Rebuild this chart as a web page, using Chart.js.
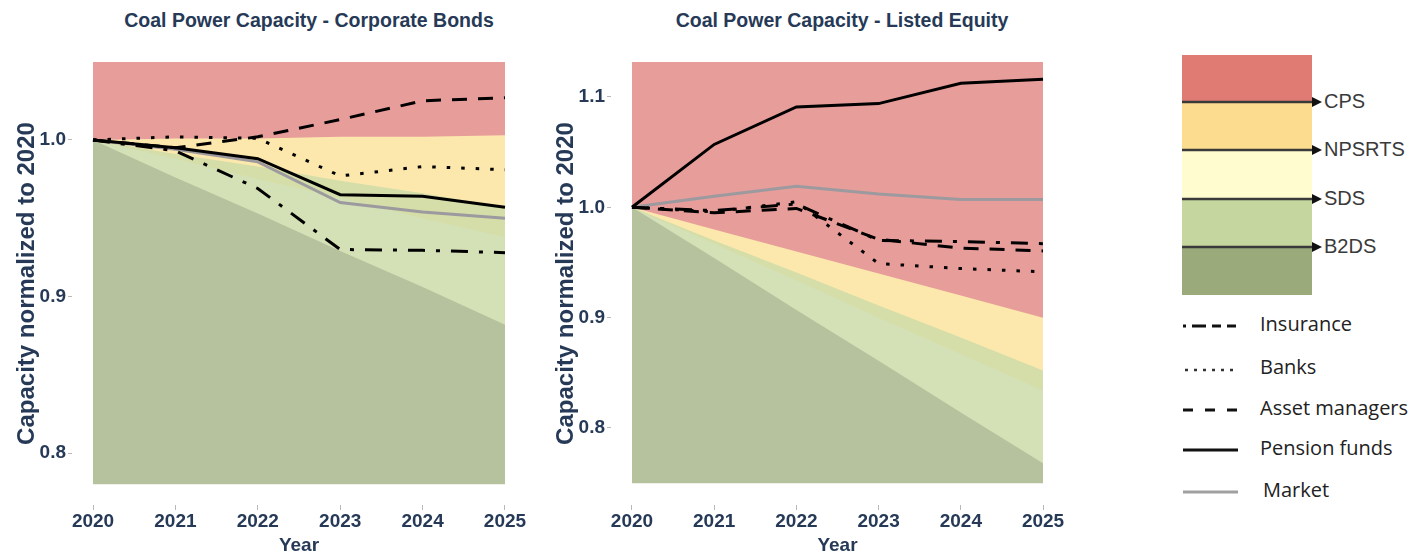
<!DOCTYPE html>
<html>
<head>
<meta charset="utf-8">
<title>Coal Power Capacity</title>
<script src="https://cdn.jsdelivr.net/npm/chart.js@4.4.0/dist/chart.umd.min.js"></script>
<style>
	body {
		margin: 0;
		background: #fff;
		width: 1428px;
		height: 557px;
		overflow: hidden;
		position: relative;
		font-family: "Liberation Sans", Arial, sans-serif;
	}
	canvas {
		position: absolute;
		top: 0;
	}
	.title {
		position: absolute;
		top: 9px;
		width: 540px;
		text-align: center;
		font-weight: bold;
		font-size: 19.5px;
		line-height: 22px;
		color: #263a57;
		white-space: nowrap;
	}
	#legend {
		position: absolute;
		left: 1160px;
		top: 40px;
	}
</style>
</head>
<body>
<div class="title" style="left: 39px">Coal Power Capacity - Corporate Bonds</div>
<div class="title" style="left: 572px">Coal Power Capacity - Listed Equity</div>
<canvas id="bondsChart" width="540" height="557" style="left: 0"></canvas>
<canvas id="equityChart" width="540" height="557" style="left: 539px"></canvas>

<svg id="legend" width="268" height="480" xmlns="http://www.w3.org/2000/svg">
	<rect x="22" y="15" width="130" height="47" fill="#e07b73" />
	<rect x="22" y="62" width="130" height="48" fill="#fcdc8f" />
	<rect x="22" y="110" width="130" height="49" fill="#fffcd0" />
	<rect x="22" y="159" width="130" height="48" fill="#c5d69e" />
	<rect x="22" y="207" width="130" height="48" fill="#9baa7b" />
	<g stroke="#3a3a3a" stroke-width="2.5">
		<line x1="22" y1="62" x2="153" y2="62" />
		<line x1="22" y1="110" x2="153" y2="110" />
		<line x1="22" y1="159" x2="153" y2="159" />
		<line x1="22" y1="207" x2="153" y2="207" />
	</g>
	<g fill="#111">
		<polygon points="152,57 162,62 152,67" />
		<polygon points="152,105 162,110 152,115" />
		<polygon points="152,154 162,159 152,164" />
		<polygon points="152,202 162,207 152,212" />
	</g>
	<g font-family="Liberation Sans, Arial, sans-serif" font-size="20" fill="#3a3a3a" dominant-baseline="middle">
		<text x="164" y="63">CPS</text>
		<text x="164" y="111">NPSRTS</text>
		<text x="164" y="160">SDS</text>
		<text x="164" y="208">B2DS</text>
	</g>
	<g fill="none" stroke-width="3">
		<line x1="23" y1="286" x2="78" y2="286" stroke="#111" stroke-dasharray="3 6 14 6 9 6 9" />
		<line x1="25" y1="330" x2="78" y2="330" stroke="#333" stroke-width="2.5" stroke-dasharray="3 6" />
		<line x1="23" y1="370" x2="78" y2="370" stroke="#111" stroke-dasharray="10 12" />
		<line x1="23" y1="410" x2="78" y2="410" stroke="#111" />
		<line x1="23" y1="452" x2="78" y2="452" stroke="#a0a0a0" />
	</g>
	<g font-family="Open Sans, sans-serif" font-size="20" fill="#222" dominant-baseline="middle">
		<text x="100" y="286">Insurance</text>
		<text x="100" y="329">Banks</text>
		<text x="100" y="370">Asset managers</text>
		<text x="100" y="410">Pension funds</text>
		<text x="103" y="452">Market</text>
	</g>
</svg>

<script>
const years = [2020, 2021, 2022, 2023, 2024, 2025];

// Corporate bonds: investor groups
const bondsInsurance = [1.0, 0.993, 0.969, 0.93, 0.9295, 0.928];
const bondsBanks = [1.0, 1.002, 1.001, 0.977, 0.983, 0.981];
const bondsAssetManagers = [1.0, 0.995, 1.002, 1.013, 1.025, 1.027];
const bondsPensionFunds = [1.0, 0.995, 0.988, 0.965, 0.964, 0.957];
const bondsMarket = [1.0, 0.994, 0.986, 0.96, 0.954, 0.95];

// Corporate bonds: scenario boundaries
const bondsCPS = [1.0, 1.001, 1.001, 1.002, 1.002, 1.003];
const bondsNPSRTS = [1.0, 0.991, 0.983, 0.974, 0.966, 0.957];
const bondsSDS = [1.0, 0.988, 0.975, 0.963, 0.95, 0.938];
const bondsB2DS = [1.0, 0.976, 0.953, 0.929, 0.906, 0.882];
const bondsFloor = [0.78, 0.78, 0.78, 0.78, 0.78, 0.78];
const bondsYTicks = [0.8, 0.9, 1.0];

// Listed equity: investor groups
const equityInsurance = [1.0, 0.997, 1.003, 0.97, 0.969, 0.967];
const equityBanks = [1.0, 0.996, 1.005, 0.949, 0.9445, 0.9415];
const equityAssetManagers = [1.0, 0.995, 0.999, 0.971, 0.963, 0.9605];
const equityPensionFunds = [1.0, 1.057, 1.091, 1.094, 1.1125, 1.116];
const equityMarket = [1.0, 1.01, 1.019, 1.012, 1.007, 1.007];

// Listed equity: scenario boundaries
const equityCPS = [1.0, 0.98, 0.96, 0.94, 0.92, 0.9];
const equityNPSRTS = [1.0, 0.97, 0.941, 0.911, 0.882, 0.852];
const equitySDS = [1.0, 0.967, 0.934, 0.9, 0.867, 0.834];
const equityB2DS = [1.0, 0.954, 0.907, 0.861, 0.814, 0.768];
const equityFloor = [0.75, 0.75, 0.75, 0.75, 0.75, 0.75];
const equityYTicks = [0.8, 0.9, 1.0, 1.1];

const navy = "#263a57";
const tickGrey = "#b8b8b8";

function lineSet(label, data, color, dash) {
	return {
		label: label,
		data: data,
		borderColor: color,
		borderWidth: 3,
		borderDash: dash,
		pointRadius: 0,
		tension: 0,
		fill: false,
		order: 0,
	};
}

// each band is filled from its boundary up to the top; lower bands are drawn
// first so the upper ones cover them without seams
function bandSet(label, data, color) {
	return {
		label: label,
		data: data,
		borderColor: "transparent",
		borderWidth: 0,
		backgroundColor: color,
		pointRadius: 0,
		tension: 0,
		fill: "end",
		order: 1,
	};
}

function initChart(id, lines, bands, yMin, yMax, yTicks, padRight) {
	const ctx = document.getElementById(id).getContext("2d");

	new Chart(ctx, {
		type: "line",
		data: {
			labels: years,
			datasets: [
				lineSet("Insurance", lines[0], "#000", [17, 11, 4, 11]),
				lineSet("Banks", lines[1], "#000", [3.5, 11]),
				lineSet("Asset managers", lines[2], "#000", [15, 11]),
				lineSet("Pension funds", lines[3], "#000", []),
				lineSet("Market", lines[4], "#9c9a9e", []),
				bandSet("CPS", bands[0], "#e79d9a"),
				bandSet("NPSRTS", bands[1], "#fce8ad"),
				bandSet("SDS", bands[2], "#d5dea8"),
				bandSet("B2DS", bands[3], "#d4e0b5"),
				bandSet("Floor", bands[4], "#b6c29e"),
			],
		},
		options: {
			responsive: false,
			animation: false,
			devicePixelRatio: 1,
			layout: {
				padding: { top: 62, right: padRight, bottom: 0, left: 0 },
			},
			plugins: {
				legend: { display: false },
				tooltip: { enabled: false },
				title: { display: false },
			},
			scales: {
				x: {
					type: "linear",
					min: 2019.745,
					max: 2025.255,
					afterBuildTicks: (scale) => {
						scale.ticks = years.map((v) => ({ value: v }));
					},
					afterFit: (scale) => {
						scale.height = 52;
					},
					ticks: {
						color: navy,
						font: { family: "Liberation Sans", size: 19, weight: "bold" },
						padding: 0,
						maxRotation: 0,
						callback: (value) => String(value),
					},
					grid: {
						drawOnChartArea: false,
						tickLength: 5,
						tickColor: tickGrey,
						tickWidth: 1,
					},
					border: { display: false },
					title: {
						display: true,
						text: "Year",
						color: navy,
						font: { family: "Liberation Sans", size: 19, weight: "bold" },
						padding: { top: 0, bottom: 0 },
					},
				},
				y: {
					min: yMin,
					max: yMax,
					afterBuildTicks: (scale) => {
						scale.ticks = yTicks.map((v) => ({ value: v }));
					},
					afterFit: (scale) => {
						scale.width = 72;
					},
					ticks: {
						color: navy,
						font: { family: "Liberation Sans", size: 19, weight: "bold" },
						padding: 2,
						callback: (value) => value.toFixed(1),
					},
					grid: {
						drawOnChartArea: false,
						tickLength: 4,
						tickColor: tickGrey,
						tickWidth: 1,
					},
					border: { display: false },
					title: {
						display: true,
						text: "Capacity normalized to 2020",
						color: navy,
						font: { family: "Liberation Sans", size: 24, weight: "bold" },
						padding: { top: 13, bottom: 0 },
					},
				},
			},
		},
	});
}

initChart(
	"bondsChart",
	[bondsInsurance, bondsBanks, bondsAssetManagers, bondsPensionFunds, bondsMarket],
	[bondsCPS, bondsNPSRTS, bondsSDS, bondsB2DS, bondsFloor],
	0.7668,
	1.0498,
	bondsYTicks,
	14
);

initChart(
	"equityChart",
	[equityInsurance, equityBanks, equityAssetManagers, equityPensionFunds, equityMarket],
	[equityCPS, equityNPSRTS, equitySDS, equityB2DS, equityFloor],
	0.7302,
	1.1317,
	equityYTicks,
	15
);
</script>
</body>
</html>
